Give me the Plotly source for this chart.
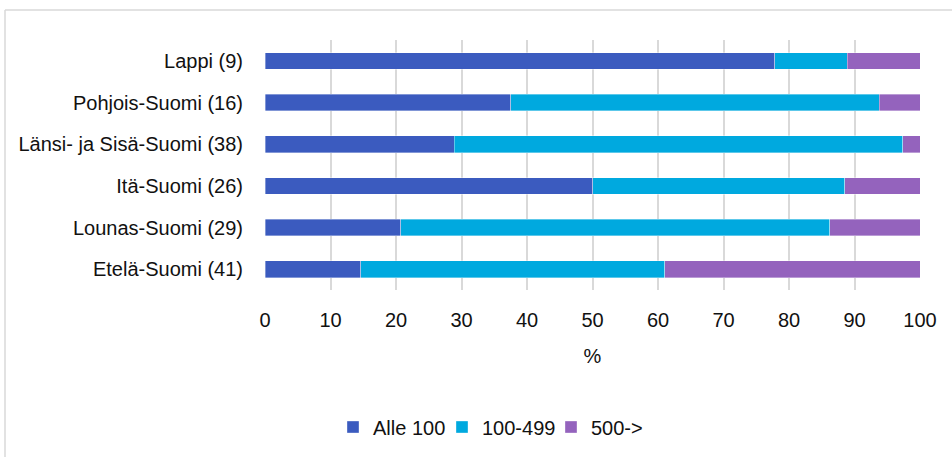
import plotly.graph_objects as go

categories = ["Lappi (9)", "Pohjois-Suomi (16)", "Länsi- ja Sisä-Suomi (38)",
              "Itä-Suomi (26)", "Lounas-Suomi (29)", "Etelä-Suomi (41)"]
alle_100 = [77.8, 37.5, 28.9, 50.0, 20.7, 14.6]
s_100_499 = [11.1, 56.3, 68.5, 38.5, 65.5, 46.4]
s_500 = [11.1, 6.2, 2.6, 11.5, 13.8, 39.0]
series_names = ["Alle 100", "100-499", "500->"]
colors = ["#3B5BBF", "#00A9DF", "#9463BD"]
x_ticks = [0, 10, 20, 30, 40, 50, 60, 70, 80, 90, 100]

FONT = "Liberation Sans, Arial, sans-serif"
FS = 20

fig = go.Figure()
for name, vals, col in zip(series_names, [alle_100, s_100_499, s_500], colors):
    fig.add_trace(go.Bar(
        y=categories, x=vals, name=name, orientation="h",
        marker=dict(color=col, line=dict(color="rgba(255,255,255,0.6)", width=0.6)),
    ))

W, H = 952, 457
L, R, T, B = 265, 32, 40, 167
pw, ph = W - L - R, H - T - B

def px_x(px):
    return (px - L) / pw

def px_y(py):
    return (H - B - py) / ph

fig.update_layout(
    width=W, height=H,
    margin=dict(l=L, r=R, t=T, b=B, autoexpand=False),
    barmode="stack", bargap=0.6,
    paper_bgcolor="white", plot_bgcolor="white",
    font=dict(family=FONT, size=FS, color="#111111"),
    showlegend=True,
    legend=dict(
        orientation="h", xref="container", yref="container",
        x=333 / W, xanchor="left", y=(H - 427) / H, yanchor="middle",
        font=dict(size=FS, family=FONT), itemwidth=30,
        entrywidth=64, entrywidthmode="pixels",
        traceorder="normal",
    ),
    xaxis=dict(
        range=[0, 100], tickvals=x_ticks, ticktext=[str(v) for v in x_ticks],
        showgrid=True, gridcolor="#D9D9D9", gridwidth=1.5, zeroline=False,
        showline=False, ticks="", ticklabelstandoff=16, automargin=False,
        title=dict(text="%", standoff=18, font=dict(size=FS, family=FONT)),
        tickfont=dict(size=FS, family=FONT),
    ),
    yaxis=dict(
        autorange="reversed", showgrid=False, zeroline=False,
        showline=False, ticks="", ticklabelstandoff=21, automargin=False,
        tickfont=dict(size=FS, family=FONT),
    ),
    shapes=[
        dict(type="line", xref="paper", yref="paper",
             x0=px_x(5), x1=px_x(5), y0=px_y(10), y1=px_y(470),
             line=dict(color="#D9D9D9", width=1.5)),
        dict(type="line", xref="paper", yref="paper",
             x0=px_x(5), x1=px_x(960), y0=px_y(10), y1=px_y(10),
             line=dict(color="#D9D9D9", width=1.5)),
    ],
)

fig.write_html("out.html", config={"displayModeBar": False},
               post_script="document.body.style.margin='0';")
